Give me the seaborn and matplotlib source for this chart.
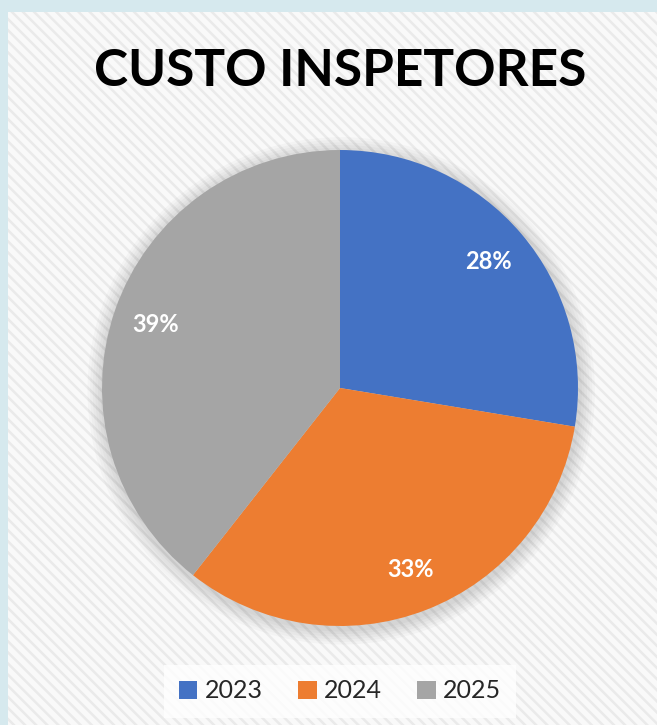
import matplotlib
matplotlib.use("Agg")
import matplotlib.pyplot as plt
import seaborn as sns
from matplotlib.patches import Rectangle, Patch, Circle

sns.set_theme(style="white")
plt.rcParams['font.family'] = ['Lato', 'DejaVu Sans']
plt.rcParams['hatch.color'] = "#eaeaea"
plt.rcParams['hatch.linewidth'] = 1.8

categories = ["2023", "2024", "2025"]
values = [27.6, 33.0, 39.4]
title = "CUSTO INSPETORES"
colors = ["#4472C4", "#ED7D31", "#A5A5A5"]

fig = plt.figure(figsize=(6.57, 7.25), dpi=100)
fig.patch.set_facecolor("#d6e9ee")

W, H = 657, 725
panel = Rectangle((8 / W, 0), 1 - 8 / W, 1 - 12 / H, transform=fig.transFigure,
                  facecolor="#f9f9f9", edgecolor="#eaeaea", hatch="\\\\\\", linewidth=0, zorder=-10)
fig.patches.append(panel)

r_px = 238
cx, cy = 340, 388
ax = fig.add_axes([(cx - r_px) / W, (H - cy - r_px) / H, 2 * r_px / W, 2 * r_px / H])
ax.set_facecolor("none")
ax.set_zorder(5)

# soft shadow
for i in range(6):
    c = Circle((0.005, -0.012), 1.0 + 0.011 * (6 - i), facecolor="black",
               edgecolor="none", alpha=0.025, zorder=0)
    c.set_clip_on(False)
    ax.add_patch(c)

wedges, texts, autotexts = ax.pie(
    values, colors=colors, startangle=90, counterclock=False,
    autopct=lambda p: f"{p:.0f}%", pctdistance=0.82, radius=1.0,
    wedgeprops=dict(linewidth=0, zorder=2),
    textprops=dict(color="white", fontsize=17, fontweight="bold"))
for t in autotexts:
    t.set_zorder(3)
ax.set_xlim(-1, 1)
ax.set_ylim(-1, 1)
ax.set_aspect("equal")

fig.text(cx / W, 1 - 72 / H, title, ha="center", va="center",
         fontsize=37, fontweight="bold", color="black")

handles = [Patch(facecolor=c, edgecolor="none", label=l) for c, l in zip(colors, categories)]
leg = fig.legend(handles=handles, loc="center", bbox_to_anchor=(340 / W, 1 - 691 / H),
                 ncol=3, frameon=True, fontsize=18, handlelength=0.75, handleheight=0.75,
                 handletextpad=0.3, columnspacing=1.4, borderpad=0.6, fancybox=False)
leg.get_frame().set_facecolor("white")
leg.get_frame().set_edgecolor("none")
for t in leg.get_texts():
    t.set_color("#262626")

fig.savefig("out.png", dpi=100, facecolor=fig.get_facecolor())
